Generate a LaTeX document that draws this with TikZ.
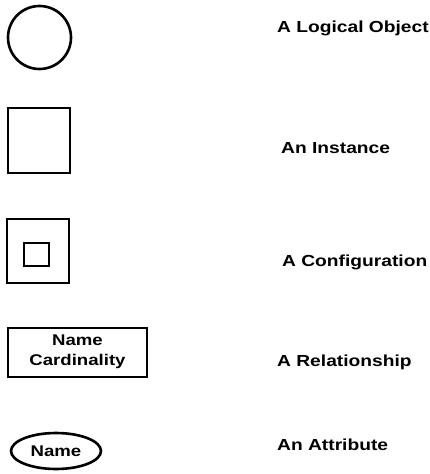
\documentclass[tikz,border=0pt]{standalone}
\usepackage{fontspec}
\setmainfont{Liberation Sans}[FakeStretch=1.2]
\usetikzlibrary{shapes.geometric}
\tikzstyle{Shape}=[draw=black,line width=2.6pt,inner sep=0pt]
\tikzstyle{Legend}=[anchor=base west,inner sep=0pt,font=\fontsize{16}{19}\selectfont\bfseries]
\tikzstyle{Inside}=[align=center,font=\fontsize{15.5}{20}\selectfont\bfseries]

\begin{document}
\begin{tikzpicture}[x=1pt,y=-1pt]
        \useasboundingbox(0,0)rectangle(430,474);
        \node[Shape,circle,minimum size=63pt](object)at(39.5,37.5){};
        \node[Shape,minimum width=62pt,minimum height=65pt](instance)at(39,140.5){};
        \node[Shape,minimum width=62pt,minimum height=64pt](config)at(38,251){};
        \node[Shape,minimum width=25pt,minimum height=23pt](configin)at(36.5,254.5){};
        \node[Shape,Inside,minimum width=139pt,minimum height=49pt,line width=2pt](relation)at(77.5,352){Name\\Cardinality};
        \node[Shape,Inside,ellipse,minimum width=90pt,minimum height=36pt](attribute)at(56,451){Name};
        \node[Legend](objectlbl)at(277,32){A Logical Object};
        \node[Legend](instancelbl)at(281,153){An Instance};
        \node[Legend](configlbl)at(282,266){A Configuration};
        \node[Legend](relationlbl)at(277,366){A Relationship};
        \node[Legend](attributelbl)at(277,450){An Attribute};
    \end{tikzpicture}
\end{document}
